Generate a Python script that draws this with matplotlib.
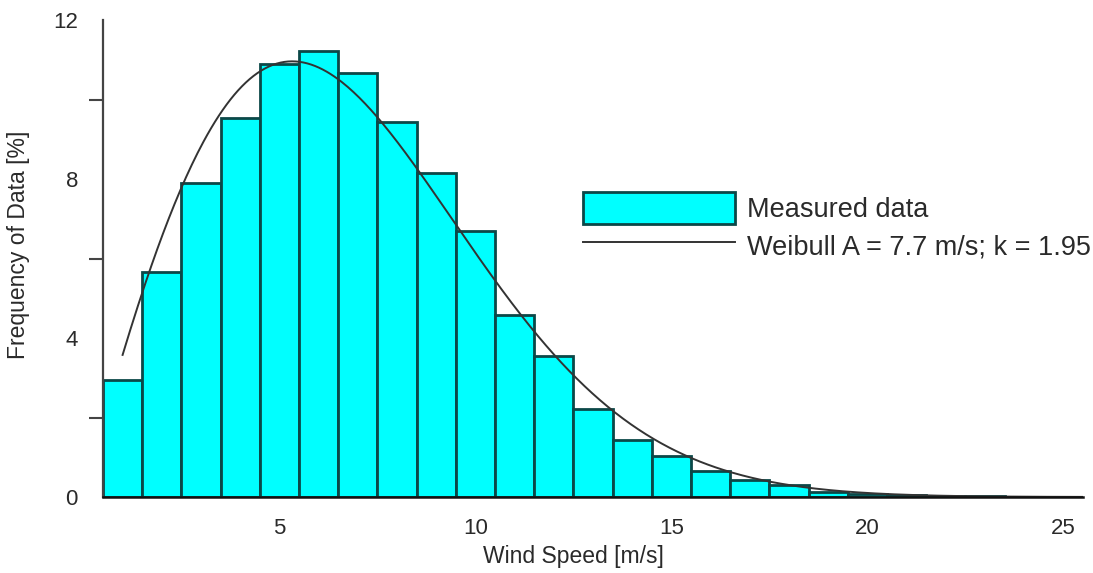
import numpy as np
import matplotlib
matplotlib.use("Agg")
import matplotlib.pyplot as plt
from matplotlib.ticker import FixedLocator

# ---- data ----
wind_speed = [1, 2, 3, 4, 5, 6, 7, 8, 9, 10, 11, 12, 13,
              14, 15, 16, 17, 18, 19, 20, 21, 22, 23, 24, 25]
frequency = [2.94, 5.67, 7.90, 9.53, 10.89, 11.23, 10.67, 9.43, 8.16, 6.69,
             4.58, 3.55, 2.21, 1.43, 1.03, 0.66, 0.44, 0.30, 0.13, 0.08,
             0.05, 0.03, 0.02, 0.01, 0.01]
weibull_A = 7.7
weibull_k = 1.95
x_ticks = [5, 10, 15, 20, 25]
y_major = [0, 4, 8, 12]
y_minor = [2, 6, 10]

plt.rcParams['font.family'] = ['Liberation Sans', 'DejaVu Sans']
txt_color = '#2a2a2a'

fig = plt.figure(figsize=(10.93, 5.73), dpi=100)
ax = fig.add_axes([103 / 1093, 1 - 497 / 573, (1083 - 103) / 1093, (497 - 20) / 573])

bars = ax.bar(wind_speed, frequency, width=1.0, color='#00FFFF', edgecolor='#0b4848',
              linewidth=2.0, label='Measured data', zorder=2)

v = np.linspace(1.0, 25.5, 500)
pdf = 100 * (weibull_k / weibull_A) * (v / weibull_A) ** (weibull_k - 1) * \
    np.exp(-(v / weibull_A) ** weibull_k)
line, = ax.plot(v, pdf, color='#333333', linewidth=1.4, zorder=3,
                label='Weibull A = 7.7 m/s; k = 1.95')

ax.set_xlim(0.5, 25.5)
ax.set_ylim(0, 12)

ax.set_xticks(x_ticks)
ax.set_xticklabels([str(t) for t in x_ticks])
ax.tick_params(axis='x', length=0, pad=15, labelsize=16, labelcolor=txt_color)

ax.yaxis.set_major_locator(FixedLocator(y_major))
ax.yaxis.set_minor_locator(FixedLocator(y_minor))
ax.tick_params(axis='y', which='major', length=0, pad=18, labelsize=16,
               labelcolor=txt_color)
ax.tick_params(axis='y', which='minor', length=10, width=1.5, color='#444444',
               direction='out')

for s in ['top', 'right']:
    ax.spines[s].set_visible(False)
ax.spines['left'].set_linewidth(1.6)
ax.spines['left'].set_color('#444444')
ax.spines['bottom'].set_linewidth(1.8)
ax.spines['bottom'].set_color('#111111')
ax.spines['left'].set_zorder(4)
ax.spines['bottom'].set_zorder(4)

ax.set_xlabel('Wind Speed [m/s]', fontsize=16.5, color=txt_color)
ax.xaxis.set_label_coords(0.48, -0.10)
ax.set_ylabel('Frequency of Data [%]', fontsize=16.5, color=txt_color)
ax.yaxis.set_label_coords(-0.0745, 0.528)

leg = ax.legend(handles=[bars, line], loc='upper left',
                bbox_to_anchor=(0.49, 0.6394), frameon=False,
                fontsize=19.5, handlelength=5.6, handleheight=1.45,
                labelspacing=0.2, handletextpad=0.45, borderpad=0,
                borderaxespad=0)
for t in leg.get_texts():
    t.set_color(txt_color)

fig.savefig('out.png', dpi=100)
